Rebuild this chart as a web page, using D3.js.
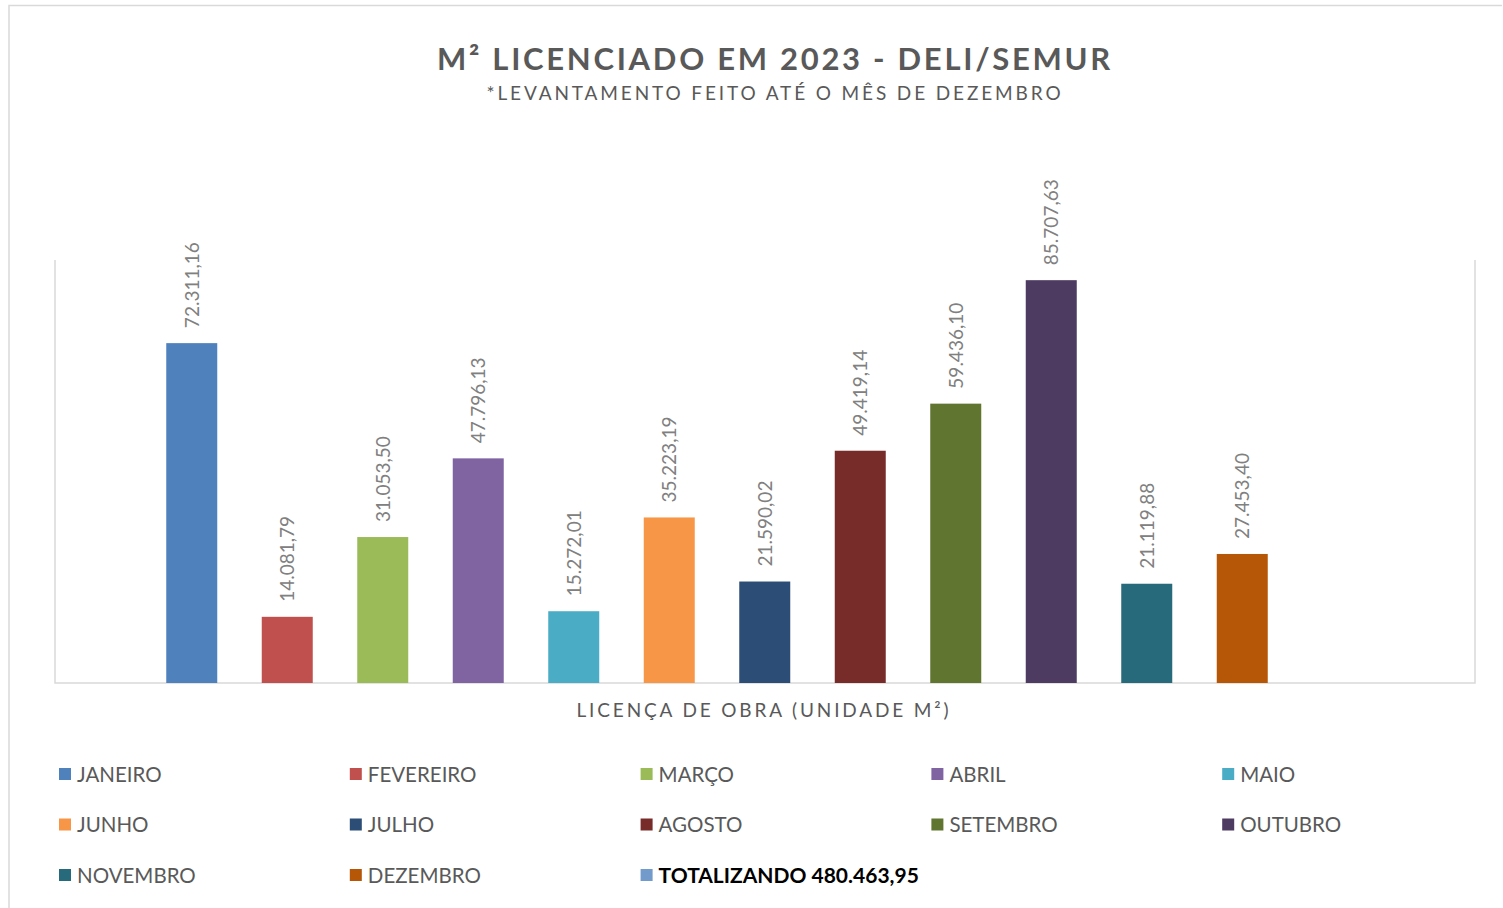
<!DOCTYPE html>
<html>
<head>
<meta charset="utf-8">
<script src="https://cdn.jsdelivr.net/npm/d3@7"></script>
<style>
  body { margin: 0; background: #fff; }
  svg { display: block; font-family: Lato, "Open Sans", sans-serif; }
</style>
</head>
<body>
<svg id="chart"></svg>
<script>
// categories (13 series in Excel; the total has no bar)
const months = ['JANEIRO', 'FEVEREIRO', 'MARÇO', 'ABRIL', 'MAIO', 'JUNHO', 'JULHO',
  'AGOSTO', 'SETEMBRO', 'OUTUBRO', 'NOVEMBRO', 'DEZEMBRO', 'TOTALIZANDO 480.463,95'];
const values = [72311.16, 14081.79, 31053.50, 47796.13, 15272.01, 35223.19, 21590.02,
  49419.14, 59436.10, 85707.63, 21119.88, 27453.40, null];
const colors = ['#4f81bd', '#c0504d', '#9bbb59', '#8064a2', '#4bacc6', '#f79646', '#2c4d75',
  '#772c2a', '#5f7530', '#4d3b62', '#276a7c', '#b65708', '#729aca'];

const width = 1503, height = 908;
const plot = { left: 55, right: 1475, top: 260, bottom: 683 };

const svg = d3.select('#chart')
    .attr('width', width)
    .attr('height', height);

// outer chart border
svg.append('path')
    .attr('d', `M9,${height} V5.5 H1502`)
    .attr('fill', 'none')
    .attr('stroke', '#d9d9d9')
    .attr('stroke-width', 1.5);

// fit text to a target width using letter-spacing
function spread(sel, target) {
  const n = sel.text().length;
  const w = sel.node().getComputedTextLength();
  sel.style('letter-spacing', ((target - w) / n) + 'px');
}

const title = svg.append('text')
    .attr('x', 775)
    .attr('y', 70)
    .attr('text-anchor', 'middle')
    .style('font-size', '31px')
    .style('font-weight', 'bold')
    .attr('fill', '#595959')
    .text('M² LICENCIADO EM 2023 - DELI/SEMUR');
spread(title, 676);

const subtitle = svg.append('text')
    .attr('x', 775)
    .attr('y', 100)
    .attr('text-anchor', 'middle')
    .style('font-size', '19px')
    .attr('fill', '#595959')
    .text('*LEVANTAMENTO FEITO ATÉ O MÊS DE DEZEMBRO');
spread(subtitle, 577);

// scales: 13 equal slots, bar fills ~53% of each
const slotL = 144, slotR = 1385.5;
const x = d3.scaleBand()
    .domain(months)
    .range([slotL, slotR])
    .paddingInner(0.466)
    .paddingOuter(0.233);

const y = d3.scaleLinear()
    .domain([0, 90000])
    .range([plot.bottom, plot.top]);

const chart = svg.append('g');

// plot area borders (left, right, bottom)
chart.append('path')
    .attr('d', `M${plot.left},${plot.top} V${plot.bottom} H${plot.right} V${plot.top}`)
    .attr('fill', 'none')
    .attr('stroke', '#d9d9d9')
    .attr('stroke-width', 1.5);

const data = months.map((m, i) => ({ m, v: values[i], c: colors[i] }))
    .filter(d => d.v != null);

chart.selectAll('.bar')
    .data(data)
  .join('rect')
    .attr('class', 'bar')
    .attr('x', d => x(d.m))
    .attr('width', x.bandwidth())
    .attr('y', d => y(d.v))
    .attr('height', d => y(0) - y(d.v))
    .attr('fill', d => d.c);

const fmt = d3.formatLocale({ decimal: ',', thousands: '.', grouping: [3] }).format(',.2f');

chart.selectAll('.label')
    .data(data)
  .join('text')
    .attr('class', 'label')
    .attr('transform', d => `translate(${x(d.m) + x.bandwidth() / 2},${y(d.v) - 15}) rotate(-90)`)
    .attr('dy', '0.36em')
    .style('font-size', '19px')
    .attr('fill', '#808080')
    .text(d => fmt(d.v));

const axisTitle = svg.append('text')
    .attr('x', 764)
    .attr('y', 717)
    .attr('text-anchor', 'middle')
    .style('font-size', '19px')
    .attr('fill', '#595959')
    .text('LICENÇA DE OBRA (UNIDADE M²)');
spread(axisTitle, 375);

// legend: 5 columns x 3 rows
const legend = svg.append('g');
const item = legend.selectAll('g')
    .data(months)
  .join('g')
    .attr('transform', (d, i) => `translate(${59 + (i % 5) * 290.8},${774 + Math.floor(i / 5) * 50.5})`);

item.append('rect')
    .attr('y', -6)
    .attr('width', 12)
    .attr('height', 12)
    .attr('fill', (d, i) => colors[i]);

item.append('text')
    .attr('x', 18)
    .attr('dy', '0.38em')
    .style('font-size', (d, i) => i === 12 ? '21px' : '20.5px')
    .style('font-weight', (d, i) => i === 12 ? 'bold' : 'normal')
    .attr('fill', (d, i) => i === 12 ? '#000' : '#595959')
    .text(d => d);
</script>
</body>
</html>
